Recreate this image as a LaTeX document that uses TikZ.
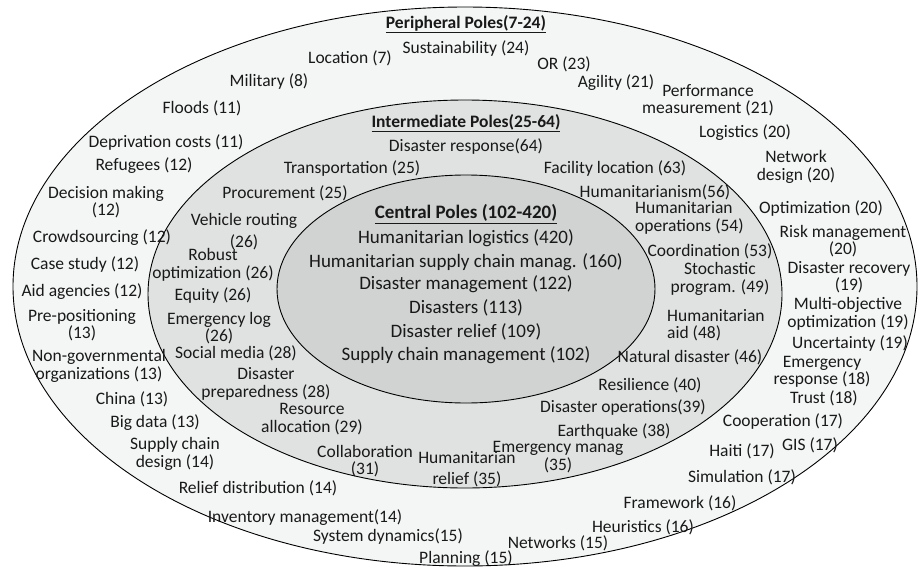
\documentclass[tikz,border=0pt]{standalone}
\usepackage{fontspec}
\setmainfont{Carlito}
\usepackage{tikz}

\definecolor{ringout}{HTML}{F4F5F5}
\definecolor{ringmid}{HTML}{E0E1E1}
\definecolor{ringin}{HTML}{D1D2D2}

\begin{document}
\begin{tikzpicture}[x=1pt, y=-1pt,
		ring/.style={draw, line width=0.9pt},
		mynode/.style={inner sep=0pt, align=center, text=black!90, font=\fontsize{17.5}{17.5}\selectfont},
		myleft/.style={mynode, align=left, anchor=west},
		mytitle/.style={inner sep=0pt, text=black!90, font=\fontsize{17.5}{18}\selectfont\bfseries},
		mycentral/.style={inner sep=0pt, text=black!90, font=\fontsize{19}{20}\selectfont}
	]
	\useasboundingbox (0,0) rectangle (920,570);

	\draw[ring, fill=ringout] (465,286.5) ellipse [x radius=452pt, y radius=279.5pt];
	\draw[ring, fill=ringmid] (465,294) ellipse [x radius=317pt, y radius=194pt];
	\draw[ring, fill=ringin] (466,289) ellipse [x radius=189pt, y radius=114pt];

	\node[mytitle] (ptitle) at (466,24) {\underline{Peripheral Poles(7-24)}};
	\node[mynode] (sustain) at (466,49) {Sustainability (24)};
	\node[mynode] (location) at (350,58) {Location (7)};
	\node[mynode] (military) at (269,82) {Military (8)};
	\node[mynode] (floods) at (202,108) {Floods (11)};
	\node[mynode] (depriv) at (166,143) {Deprivation costs (11)};
	\node[mynode] (refugees) at (144,166) {Refugees (12)};
	\node[mynode] (decision) at (106,202) {Decision making\\(12)};
	\node[mynode] (crowd) at (102,238) {Crowdsourcing (12)};
	\node[mynode] (casestudy) at (85,265) {Case study (12)};
	\node[mynode] (aidag) at (82,292) {Aid agencies (12)};
	\node[mynode] (prepos) at (82,325) {Pre-positioning\\(13)};
	\node[mynode] (ngo) at (99,366) {Non-governmental\\organizations (13)};
	\node[mynode] (china) at (132,399) {China (13)};
	\node[mynode] (bigdata) at (155,423) {Big data (13)};
	\node[mynode] (scdesign) at (175,454) {Supply chain\\design (14)};
	\node[mynode] (reliefdist) at (258,488) {Relief distribution (14)};
	\node[mynode] (inventory) at (305,518) {Inventory management(14)};
	\node[mynode] (sysdyn) at (388,537) {System dynamics(15)};
	\node[mynode] (planning) at (466,559) {Planning (15)};
	\node[mynode] (networks) at (558,543) {Networks (15)};
	\node[mynode] (heuristics) at (643,527) {Heuristics (16)};
	\node[mynode] (framework) at (680,503) {Framework (16)};
	\node[mynode] (simulation) at (742,477) {Simulation (17)};
	\node[mynode] (haiti) at (742,451) {Haiti (17)};
	\node[mynode] (gis) at (810,445) {GIS (17)};
	\node[mynode] (cooperation) at (783,422) {Cooperation (17)};
	\node[mynode] (trust) at (824,398) {Trust (18)};
	\node[mynode] (emresp) at (822,372) {Emergency\\response (18)};
	\node[mynode] (uncertainty) at (850,344) {Uncertainty (19)};
	\node[mynode] (multiobj) at (848,314) {Multi-objective\\optimization (19)};
	\node[mynode] (recovery) at (849,277) {Disaster recovery\\(19)};
	\node[mynode] (riskman) at (843,241) {Risk management\\(20)};
	\node[mynode] (optim) at (821,209) {Optimization (20)};
	\node[mynode] (netdesign) at (796,167) {Network\\design (20)};
	\node[mynode] (logistics) at (745,133) {Logistics (20)};
	\node[mynode] (perform) at (708,100) {Performance\\measurement (21)};
	\node[mynode] (agility) at (616,83) {Agility (21)};
	\node[mynode] (opres) at (564,64) {OR (23)};

	\node[mytitle] (ititle) at (466,123) {\underline{Intermediate Poles(25-64)}};
	\node[mynode] (response) at (466,147) {Disaster response(64)};
	\node[mynode] (transport) at (352,169) {Transportation (25)};
	\node[mynode] (facility) at (615,169) {Facility location (63)};
	\node[mynode] (procure) at (285,193) {Procurement (25)};
	\node[mynode] (humism) at (655,192) {Humanitarianism(56)};
	\node[myleft] (humops) at (635,218) {Humanitarian\\operations (54)};
	\node[mynode] (coord) at (710,251) {Coordination (53)};
	\node[mynode] (stoch) at (720,279) {Stochastic\\program. (49)};
	\node[myleft] (humaid) at (667,325) {Humanitarian\\aid (48)};
	\node[mynode] (natural) at (690,357) {Natural disaster (46)};
	\node[mynode] (resilience) at (650,385) {Resilience (40)};
	\node[mynode] (disops) at (623,408) {Disaster operations(39)};
	\node[mynode] (quake) at (614,432) {Earthquake (38)};
	\node[mynode] (emmanag) at (558,457) {Emergency manag\\(35)};
	\node[mynode] (humrelief) at (467,469) {Humanitarian\\[3pt]relief (35)};
	\node[mynode] (collab) at (365,461) {Collaboration\\(31)};
	\node[mynode] (resalloc) at (312,419) {Resource\\allocation (29)};
	\node[mynode] (prepared) at (266,384) {Disaster\\preparedness (28)};
	\node[mynode] (social) at (236,353) {Social media (28)};
	\node[mynode] (emlog) at (219,328) {Emergency log\\(26)};
	\node[mynode] (equity) at (213,296) {Equity (26)};
	\node[mynode] (robust) at (213,265) {Robust\\optimization (26)};
	\node[mynode] (vehicle) at (244,232) {Vehicle routing\\[4.5pt](26)};

	\node[mytitle, font=\fontsize{19}{20}\selectfont\bfseries] (ctitle) at (466,214) {\underline{Central Poles (102-420)}};
	\node[mycentral] (hlog) at (466,238) {Humanitarian logistics (420)};
	\node[mycentral] (hscm) at (466,262) {Humanitarian supply chain manag. (160)};
	\node[mycentral] (dman) at (466,284) {Disaster management (122)};
	\node[mycentral] (dis) at (466,308) {Disasters (113)};
	\node[mycentral] (drel) at (466,332) {Disaster relief (109)};
	\node[mycentral] (scm) at (466,355) {Supply chain management (102)};
\end{tikzpicture}
\end{document}
